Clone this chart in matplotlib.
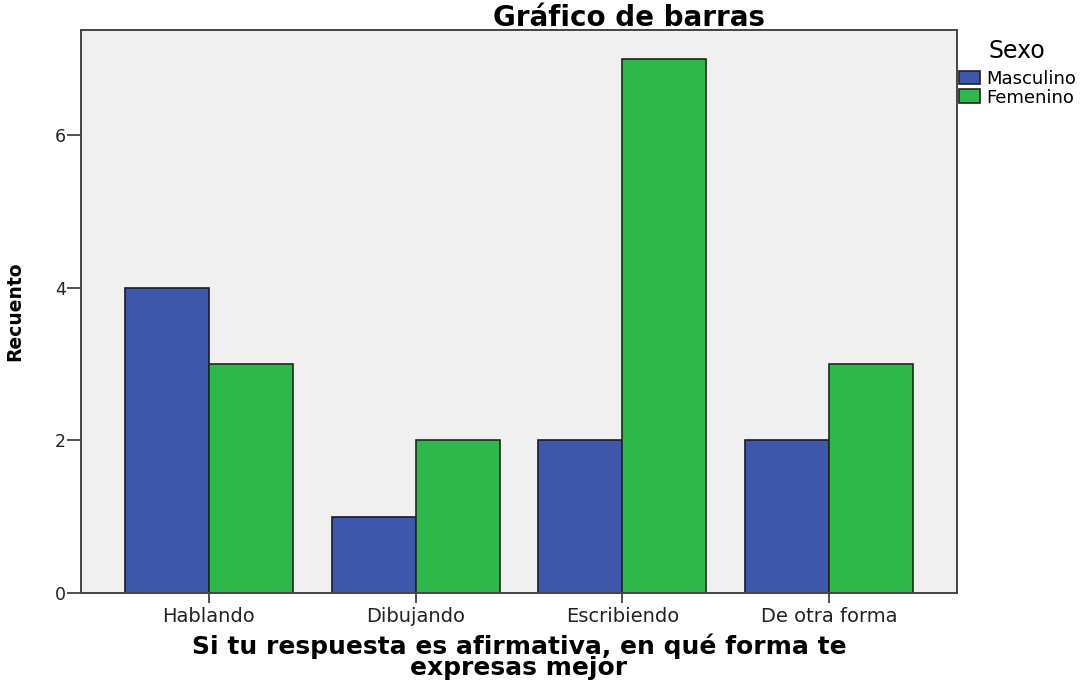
import numpy as np
import matplotlib.pyplot as plt

categorias = ["Hablando", "Dibujando", "Escribiendo", "De otra forma"]
masculino = [4, 1, 2, 2]
femenino = [3, 2, 7, 3]
y_ticks = [0, 2, 4, 6]

azul = "#3e57ab"
verde = "#2eb84c"

W, H = 1089, 682
fig = plt.figure(figsize=(W / 100, H / 100), dpi=100)
ax = fig.add_axes([81 / W, 1 - 593 / H, (957 - 81) / W, (593 - 30) / H])
ax.set_facecolor("#f0f0f0")

x = np.arange(len(categorias))
w = 0.406
b1 = ax.bar(x - w / 2, masculino, w, color=azul, edgecolor="#1a1a2a", linewidth=1.2, label="Masculino")
b2 = ax.bar(x + w / 2, femenino, w, color=verde, edgecolor="#1a2a1a", linewidth=1.2, label="Femenino")

ax.set_xlim(-0.619, 3.619)
ax.set_ylim(0, 7.376)
ax.set_xticks(x)
ax.set_xticklabels(categorias, fontsize=14, color="#222222")
ax.set_yticks(y_ticks)
ax.set_yticklabels([str(v) for v in y_ticks], fontsize=12.5, color="#222222")
ax.tick_params(axis="x", length=7.2, width=1.2, pad=3, color="#333333")
ax.tick_params(axis="y", length=10, width=1.2, pad=1, color="#333333")
for s in ax.spines.values():
    s.set_color("#444444")
    s.set_linewidth(1.4)

ax.set_xlabel("Si tu respuesta es afirmativa, en qué forma te\nexpresas mejor",
              fontsize=18, fontweight="bold", linespacing=0.86, labelpad=5)
ax.set_ylabel("Recuento", fontsize=13.5, fontweight="bold", labelpad=22)

fig.text(629 / W, 1 - 4 / H, "Gráfico de barras", ha="center", va="top",
         fontsize=20, fontweight="bold")

leg = fig.legend(handles=[b1, b2], labels=["Masculino", "Femenino"], title="Sexo",
                 loc="upper left", bbox_to_anchor=(957 / W, 1 - 37 / H),
                 frameon=False, fontsize=13, title_fontsize=17,
                 handlelength=1.2, handleheight=0.8, handletextpad=0.3,
                 labelspacing=0.05, borderpad=0.1, borderaxespad=0)
leg._legend_box.sep = 5
for h in leg.legend_handles:
    h.set_edgecolor("#222222")

fig.savefig("out.png", dpi=100)
